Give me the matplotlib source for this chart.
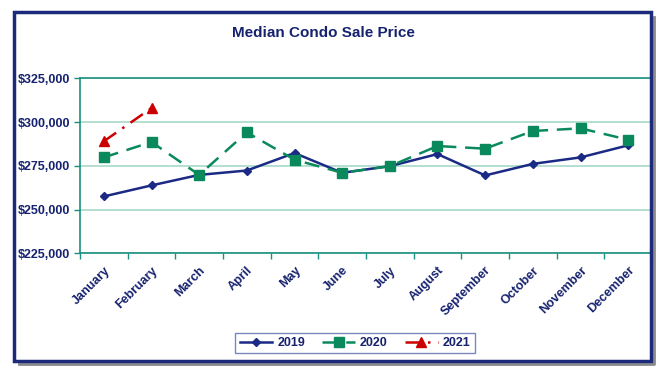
import matplotlib
matplotlib.use('Agg')
import matplotlib.pyplot as plt
from matplotlib.patches import Rectangle
from matplotlib.lines import Line2D
from matplotlib.ticker import FuncFormatter

# ---------------------------------------------------------------- dados
meses = ['January', 'February', 'March', 'April', 'May', 'June', 'July',
         'August', 'September', 'October', 'November', 'December']
v2019 = [257500, 263800, 269800, 272300, 282300, 271000, 274800, 281700,
         269500, 276100, 279800, 286700]
v2020 = [279800, 288600, 269800, 294100, 278500, 271000, 274800, 286300,
         284800, 294900, 296400, 289900]
v2021 = [289000, 308000]
y_ticks = [225000, 250000, 275000, 300000, 325000]

navy = '#16226e'
linha19 = '#1b2a84'
verde = '#0a8a5c'
vermelho = '#cc0000'
teal = '#1a9080'
grade = '#a8d8c8'

plt.rcParams['font.family'] = ['Liberation Sans', 'DejaVu Sans']

fig = plt.figure(figsize=(6.66, 3.77), dpi=100)
ax = fig.add_axes([80/666, 1 - 253.3/377, 572/666, 175/377])

x = list(range(len(meses)))
ax.plot(x, v2019, color=linha19, lw=1.8, marker='D', ms=4.5, label='2019', zorder=3)
ax.plot(x, v2020, color=verde, lw=1.8, ls=(0, (6, 3.5)), marker='s', ms=6.5,
        label='2020', zorder=4)
ax.plot(x[:len(v2021)], v2021, color=vermelho, lw=1.8, ls=(0, (6, 3, 1, 3)),
        marker='^', ms=7, label='2021', zorder=5)

ax.set_xlim(-0.5, 11.5)
ax.set_ylim(225000, 325000)
ax.set_yticks(y_ticks)
ax.yaxis.set_major_formatter(FuncFormatter(lambda v, p: f'${v:,.0f}'))
ax.grid(axis='y', color=grade, lw=1.2)
ax.set_axisbelow(True)

ax.set_xticks(x)
ax.set_xticklabels(meses, rotation=45, ha='right', rotation_mode='anchor')
ax.set_xticks([i - 0.5 for i in range(13)], minor=True)
ax.tick_params(axis='x', which='major', length=0, pad=8)
ax.tick_params(axis='x', which='minor', length=4, color=teal, width=1)
ax.tick_params(axis='y', length=4, color=teal, width=1, pad=3)
for lbl in ax.get_xticklabels() + ax.get_yticklabels():
    lbl.set_fontweight('bold')
    lbl.set_color(navy)
    lbl.set_fontsize(9)

for s in ['left', 'bottom', 'top']:
    ax.spines[s].set_color(teal)
    ax.spines[s].set_linewidth(1.2)
ax.spines['right'].set_visible(False)

fig.text(323/666, 1 - 33/377, 'Median Condo Sale Price', ha='center', va='center',
         fontsize=11, fontweight='bold', color=navy)

leg = fig.legend(loc='center', bbox_to_anchor=(355/666, 1 - 343/377), ncol=3,
                 frameon=True, fancybox=False, fontsize=9, handlelength=2.6,
                 columnspacing=1.4, handletextpad=0.4, borderpad=0.35)
leg.get_frame().set_edgecolor('#5a68b0')
leg.get_frame().set_linewidth(1)
for t in leg.get_texts():
    t.set_fontweight('bold')
    t.set_color(navy)

# moldura externa com sombra (so direita e embaixo)
fig.lines.append(Line2D([19/666, 654/666, 654/666], [1 - 364/377, 1 - 364/377, 1 - 17/377],
                        transform=fig.transFigure, color='#8a8a8a', lw=2, zorder=9))
fig.patches.append(Rectangle((14/666, 1 - 361/377), 637/666, 349/377,
                             transform=fig.transFigure, fill=False,
                             edgecolor='#1b2a7a', lw=2.5, zorder=10))

plt.savefig('out.png', dpi=100)
